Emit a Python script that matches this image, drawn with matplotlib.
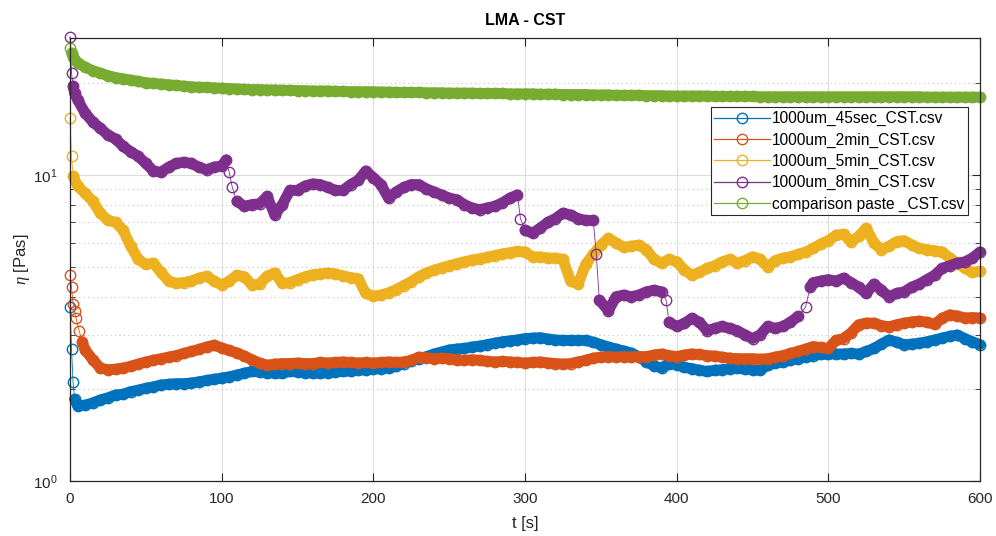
import numpy as np
import matplotlib
matplotlib.use("Agg")
import matplotlib.pyplot as plt
from matplotlib.ticker import LogLocator, NullFormatter, FixedLocator

plt.rcParams['font.family'] = ['Liberation Sans', 'DejaVu Sans']
plt.rcParams['mathtext.fontset'] = 'custom'
plt.rcParams['mathtext.rm'] = 'Liberation Sans'
plt.rcParams['mathtext.it'] = 'Liberation Serif:italic'

labels = ['1000um_45sec_CST.csv', '1000um_2min_CST.csv', '1000um_5min_CST.csv',
          '1000um_8min_CST.csv', 'comparison paste _CST.csv']
colors = ['#0072BD', '#D95319', '#EDB120', '#7E2F8E', '#77AC30']

grid5 = list(range(5, 601, 5))

# 45 sec
t_45s = [0, 1, 2, 3] + grid5
eta_45s = [3.7, 2.7, 2.1, 1.85,
           1.76, 1.77, 1.80, 1.84, 1.87, 1.91, 1.92, 1.96, 1.98, 2.01,
           2.03, 2.06, 2.07, 2.08, 2.08, 2.09, 2.11, 2.13, 2.15, 2.17,
           2.19, 2.22, 2.25, 2.28, 2.27, 2.26, 2.25, 2.25, 2.28, 2.27,
           2.26, 2.25, 2.25, 2.26, 2.27, 2.28, 2.29, 2.30, 2.31, 2.32,
           2.33, 2.34, 2.37, 2.42, 2.47, 2.51, 2.55, 2.60, 2.64, 2.68,
           2.70, 2.71, 2.74, 2.76, 2.79, 2.82, 2.85, 2.87, 2.89, 2.92,
           2.93, 2.94, 2.91, 2.89, 2.88, 2.88, 2.88, 2.88, 2.84, 2.79,
           2.74, 2.70, 2.66, 2.62, 2.55, 2.45, 2.38, 2.34, 2.42, 2.40,
           2.35, 2.33, 2.30, 2.28, 2.30, 2.31, 2.33, 2.34, 2.32, 2.31,
           2.30, 2.39, 2.43, 2.45, 2.48, 2.51, 2.54, 2.57, 2.59, 2.60,
           2.60, 2.60, 2.61, 2.60, 2.65, 2.71, 2.80, 2.89, 2.84, 2.79,
           2.80, 2.82, 2.85, 2.89, 2.93, 2.97, 3.00, 2.92, 2.85, 2.79]

# 2 min
t_2min = [0, 1, 2, 3, 4, 6, 8] + list(range(10, 601, 5))
eta_2min = [4.7, 4.3, 3.8, 3.6, 3.4, 3.1, 2.85,
            2.68, 2.49, 2.34, 2.31, 2.32, 2.34, 2.37, 2.41, 2.45,
            2.48, 2.51, 2.54, 2.57, 2.61, 2.65, 2.69, 2.74, 2.78, 2.72,
            2.67, 2.62, 2.56, 2.49, 2.43, 2.39, 2.41, 2.42, 2.42, 2.43,
            2.42, 2.42, 2.44, 2.43, 2.44, 2.45, 2.44, 2.43, 2.44, 2.43,
            2.44, 2.45, 2.44, 2.45, 2.48, 2.54, 2.53, 2.51, 2.52, 2.51,
            2.49, 2.48, 2.49, 2.48, 2.46, 2.45, 2.46, 2.45, 2.44, 2.43,
            2.44, 2.45, 2.43, 2.42, 2.41, 2.42, 2.45, 2.48, 2.52, 2.54,
            2.55, 2.54, 2.55, 2.54, 2.55, 2.55, 2.58, 2.60, 2.57, 2.55,
            2.58, 2.60, 2.59, 2.57, 2.56, 2.54, 2.52, 2.51, 2.51, 2.51,
            2.50, 2.51, 2.54, 2.57, 2.61, 2.65, 2.70, 2.75, 2.73, 2.71,
            2.88, 2.92, 3.05, 3.24, 3.28, 3.28, 3.22, 3.19, 3.24, 3.28,
            3.31, 3.33, 3.30, 3.25, 3.40, 3.49, 3.46, 3.41, 3.42, 3.41]

# 5 min
t_5min = [0, 1, 2] + grid5
eta_5min = [15.3, 11.5, 9.9,
            9.2, 8.7, 8.2, 7.5, 7.1, 7.0, 6.6, 5.85, 5.3, 5.1,
            5.15, 4.8, 4.5, 4.42, 4.45, 4.5, 4.6, 4.67, 4.5, 4.37,
            4.5, 4.7, 4.65, 4.37, 4.4, 4.67, 4.78, 4.42, 4.45, 4.55,
            4.65, 4.72, 4.75, 4.78, 4.75, 4.68, 4.62, 4.58, 4.1, 4.02,
            4.05, 4.12, 4.22, 4.35, 4.48, 4.65, 4.78, 4.88, 4.97, 5.05,
            5.13, 5.2, 5.27, 5.32, 5.38, 5.45, 5.52, 5.57, 5.62, 5.6,
            5.4, 5.4, 5.35, 5.35, 5.3, 4.5, 4.4, 5.1, 5.5, 5.9,
            6.2, 6.0, 5.8, 5.85, 5.9, 5.7, 5.3, 5.15, 5.3, 5.2,
            4.9, 4.7, 4.8, 4.95, 5.05, 5.2, 5.3, 5.15, 5.25, 5.4,
            5.3, 5.0, 5.25, 5.35, 5.4, 5.5, 5.6, 5.75, 5.95, 6.1,
            6.35, 6.4, 6.05, 6.3, 6.7, 6.0, 5.7, 5.85, 6.05, 6.1,
            5.9, 5.75, 5.7, 5.65, 5.6, 5.35, 5.15, 4.95, 4.8, 4.85]

# 8 min
t_8min = [0, 1, 2, 3, 5, 10, 15, 20, 25, 30,
          35, 40, 45, 50, 55, 60, 65, 70, 75, 80,
          85, 90, 95, 100, 103, 105, 107, 110, 115, 120,
          125, 130, 135, 140, 145, 150, 155, 160, 165, 170,
          175, 180, 185, 190, 195, 200, 205, 210, 215, 220,
          225, 230, 235, 240, 245, 250, 255, 260, 265, 270,
          275, 280, 285, 290, 295, 297, 300, 305, 310, 315,
          320, 325, 330, 335, 340, 345, 347, 349, 355, 360,
          365, 370, 375, 380, 385, 390, 393, 395, 400, 405,
          410, 415, 420, 425, 430, 435, 440, 445, 450, 455,
          460, 465, 470, 475, 480, 485, 488, 490, 495, 500,
          505, 510, 515, 520, 525, 530, 535, 540, 545, 550,
          555, 560, 565, 570, 575, 580, 585, 590, 595, 600]
eta_8min = [28.3, 21.5, 19.5, 18.5, 17.6, 15.9, 14.9, 14.2, 13.5, 13.1,
            12.4, 11.9, 11.5, 10.9, 10.3, 10.2, 10.6, 10.9, 11.0, 10.9,
            10.6, 10.4, 10.6, 10.7, 11.2, 10.2, 9.1, 8.2, 7.9, 8.0,
            8.05, 8.5, 7.4, 8.0, 8.9, 8.9, 9.2, 9.35, 9.3, 9.1,
            8.9, 8.9, 9.3, 9.6, 10.3, 9.8, 9.3, 8.4, 8.8, 9.1,
            9.3, 9.3, 9.0, 8.8, 8.6, 8.4, 8.3, 8.0, 7.8, 7.7,
            7.8, 7.9, 8.1, 8.4, 8.6, 7.2, 6.6, 6.45, 6.7, 7.0,
            7.2, 7.5, 7.4, 7.2, 7.1, 7.1, 5.5, 3.9, 3.6, 4.0,
            4.05, 4.0, 4.05, 4.15, 4.2, 4.15, 3.9, 3.3, 3.2, 3.27,
            3.4, 3.3, 3.1, 3.15, 3.2, 3.15, 3.1, 3.0, 2.92, 3.0,
            3.2, 3.15, 3.2, 3.3, 3.45, 3.7, 4.3, 4.45, 4.5, 4.55,
            4.5, 4.6, 4.45, 4.3, 4.1, 4.4, 4.2, 4.0, 4.1, 4.15,
            4.3, 4.4, 4.55, 4.7, 4.95, 5.05, 5.15, 5.2, 5.35, 5.6]

# comparison paste
t_paste = [0, 1, 2, 3] + grid5
eta_paste = [26.0, 25.0, 24.3, 23.8,
             23.2, 22.5, 21.9, 21.5, 21.1, 20.8, 20.6, 20.4, 20.2, 20.0,
             19.9, 19.8, 19.7, 19.6, 19.5, 19.4, 19.35, 19.3, 19.25, 19.2,
             19.15, 19.1, 19.05, 19.0, 19.0, 18.95, 18.95, 18.9, 18.9, 18.85,
             18.85, 18.8, 18.8, 18.8, 18.75, 18.75, 18.7, 18.7, 18.7, 18.7,
             18.65, 18.65, 18.6, 18.6, 18.6, 18.6, 18.55, 18.55, 18.55, 18.5,
             18.5, 18.5, 18.5, 18.45, 18.45, 18.45, 18.45, 18.4, 18.4, 18.4,
             18.4, 18.35, 18.35, 18.35, 18.3, 18.3, 18.3, 18.3, 18.25, 18.25,
             18.25, 18.2, 18.2, 18.2, 18.2, 18.15, 18.15, 18.15, 18.1, 18.1,
             18.1, 18.1, 18.1, 18.1, 18.05, 18.05, 18.05, 18.05, 18.05, 18.05,
             18.0, 18.0, 18.0, 18.0, 18.0, 18.0, 18.0, 18.0, 18.0, 18.0,
             18.0, 18.0, 18.0, 18.0, 18.0, 18.0, 18.0, 18.0, 18.0, 18.0,
             18.0, 18.0, 17.95, 17.95, 17.95, 17.95, 17.95, 17.95, 17.95, 17.95]

series = [(t_45s, eta_45s), (t_2min, eta_2min), (t_5min, eta_5min),
          (t_8min, eta_8min), (t_paste, eta_paste)]

# samples that sit apart from the dense cloud of markers (start-up and jumps)
sparse = [[0, 1, 2], [0, 1, 2, 3, 4, 6], [0, 1], [0, 1, 105, 107, 297, 347, 393, 485], [0]]

txt = '#262626'
fig = plt.figure(figsize=(9.96, 5.36), dpi=100)
ax = fig.add_axes([70/996, 55/536, 910/996, 443/536])

for (t, eta), lab, c, sp in zip(series, labels, colors, sparse):
    t = np.array(t, dtype=float)
    eta = np.array(eta, dtype=float)
    # overlapping markers of the dense record form a thick band
    band = np.ma.masked_where(np.isin(t, sp), eta)
    ax.plot(t, band, color=c, lw=7.8, solid_capstyle='round',
            solid_joinstyle='round', clip_on=False)
    ax.plot(t, eta, color=c, lw=0.6, marker='o', ms=7.5, mfc='none',
            mew=1.0, label=lab, clip_on=False)

ax.set_yscale('log')
ax.set_xlim(0, 600)
ax.set_ylim(1, 28)
ax.set_xticks([0, 100, 200, 300, 400, 500, 600])
ax.yaxis.set_major_locator(FixedLocator([1, 10]))
ax.yaxis.set_minor_locator(LogLocator(base=10, subs=np.arange(2, 10)))
ax.yaxis.set_minor_formatter(NullFormatter())

ax.grid(True, which='major', color='#dcdcdc', lw=0.8)
ax.grid(True, which='minor', axis='y', color='#c4c4c4', lw=0.8, ls=(0, (1, 3)))
ax.set_axisbelow(True)

ax.tick_params(which='both', direction='in', top=True, right=True,
               colors=txt, labelsize=11)
ax.tick_params(axis='x', pad=8)
ax.tick_params(axis='y', pad=9)
ax.tick_params(which='major', length=6)
ax.tick_params(which='minor', length=3.5)
for s in ax.spines.values():
    s.set_color(txt)
    s.set_linewidth(0.9)

ax.set_title('LMA - CST', fontsize=11.5, fontweight='bold', color='black', pad=9)
ax.set_xlabel('t [s]', fontsize=12, color=txt, labelpad=7)
ax.set_ylabel(r'$\mathit{\eta}$ [Pas]', fontsize=12, color=txt, labelpad=1)

leg = ax.legend(loc='upper right', bbox_to_anchor=(0.987, 0.844), borderaxespad=0,
                fontsize=11.2, handlelength=3.6, handletextpad=0.1, labelspacing=0.4,
                borderpad=0.25, fancybox=False, framealpha=1, edgecolor=txt)
leg.get_frame().set_linewidth(0.8)
for h in leg.get_lines():
    h.set_linewidth(0.9)

fig.savefig('out.png', dpi=100)
